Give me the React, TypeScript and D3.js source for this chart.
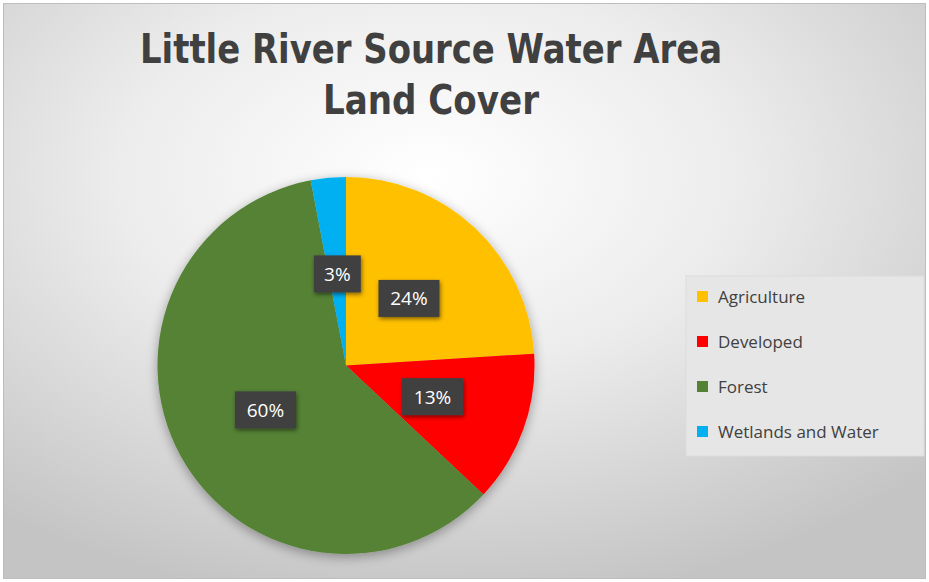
import React from "react";
import * as d3 from "d3";

const categories = ["Agriculture", "Developed", "Forest", "Wetlands and Water"];
const values = [24, 13, 60, 3];
const labels = ["24%", "13%", "60%", "3%"];
const colors = ["#FFC000", "#FF0000", "#548235", "#00B0F0"];
const titleLines = ["Little River Source Water Area", "Land Cover"];

const W = 929;
const H = 582;
const cx = 346;
const cy = 365.5;
const R = 188.5;

export default function App() {
  const pie = d3.pie<number>().sort(null).value((d) => d)(values);
  const arc = d3.arc<d3.PieArcDatum<number>>().innerRadius(0).outerRadius(R);
  const labelArc = d3.arc<d3.PieArcDatum<number>>().innerRadius(92).outerRadius(92);
  const font = "'Open Sans', 'DejaVu Sans', sans-serif";
  const titleFont = "'Liberation Sans Narrow', 'DejaVu Sans Condensed', 'Open Sans', sans-serif";

  return (
    <svg
      width={W}
      height={H}
      style={{ position: "absolute", left: 0, top: 0, display: "block" }}
    >
      <defs>
        <radialGradient id="bg" cx="0.46" cy="0.3" r="0.75">
          <stop offset="0" stopColor="#ffffff" />
          <stop offset="0.45" stopColor="#ececec" />
          <stop offset="1" stopColor="#c4c4c4" />
        </radialGradient>
        <filter id="pieShadow" x="-20%" y="-20%" width="140%" height="140%">
          <feGaussianBlur in="SourceAlpha" stdDeviation="6" />
          <feOffset dx="0" dy="3" result="b" />
          <feComponentTransfer>
            <feFuncA type="linear" slope="0.35" />
          </feComponentTransfer>
          <feMerge>
            <feMergeNode />
            <feMergeNode in="SourceGraphic" />
          </feMerge>
        </filter>
        <filter id="lblShadow" x="-30%" y="-30%" width="160%" height="160%">
          <feGaussianBlur in="SourceAlpha" stdDeviation="2" />
          <feOffset dx="1" dy="2" />
          <feComponentTransfer>
            <feFuncA type="linear" slope="0.5" />
          </feComponentTransfer>
          <feMerge>
            <feMergeNode />
            <feMergeNode in="SourceGraphic" />
          </feMerge>
        </filter>
      </defs>
      <rect x={0} y={0} width={W} height={H} fill="#ffffff" />
      <rect x={3.5} y={3.5} width={W - 7} height={H - 7} fill="url(#bg)" stroke="#bdbdbd" strokeWidth={1} />

      {titleLines.map((t, i) => (
        <text
          key={t}
          x={431}
          y={63 + i * 51}
          textAnchor="middle"
          fontFamily={titleFont}
          fontWeight={600}
          fontSize={41}
          fill="#404040"
          textLength={i === 0 ? 582 : 216}
          lengthAdjust="spacingAndGlyphs"
        >
          {t}
        </text>
      ))}

      <g transform={`translate(${cx},${cy})`} filter="url(#pieShadow)">
        {pie.map((d, i) => (
          <path key={categories[i]} d={arc(d) || ""} fill={colors[i]} />
        ))}
      </g>

      <g transform={`translate(${cx},${cy})`}>
        {pie.map((d, i) => {
          const [lx, ly] = labelArc.centroid(d);
          const w = labels[i].length === 2 ? 47 : 61;
          const h = 37;
          return (
            <g key={labels[i]} transform={`translate(${lx},${ly})`}>
              <rect x={-w / 2} y={-h / 2} width={w} height={h} fill="#404040" filter="url(#lblShadow)" />
              <text
                x={0}
                y={7}
                textAnchor="middle"
                fontFamily={font}
                fontSize={19}
                fill="#ffffff"
              >
                {labels[i]}
              </text>
            </g>
          );
        })}
      </g>

      <rect x={686} y={276} width={238} height={180} fill="#e6e6e6" stroke="#dcdcdc" />
      {categories.map((c, i) => (
        <g key={c} transform={`translate(697,${297 + i * 45})`}>
          <rect x={0} y={-6} width={11} height={11} fill={colors[i]} />
          <text x={21} y={6} fontFamily={font} fontSize={17} fill="#404040">
            {c}
          </text>
        </g>
      ))}
    </svg>
  );
}
